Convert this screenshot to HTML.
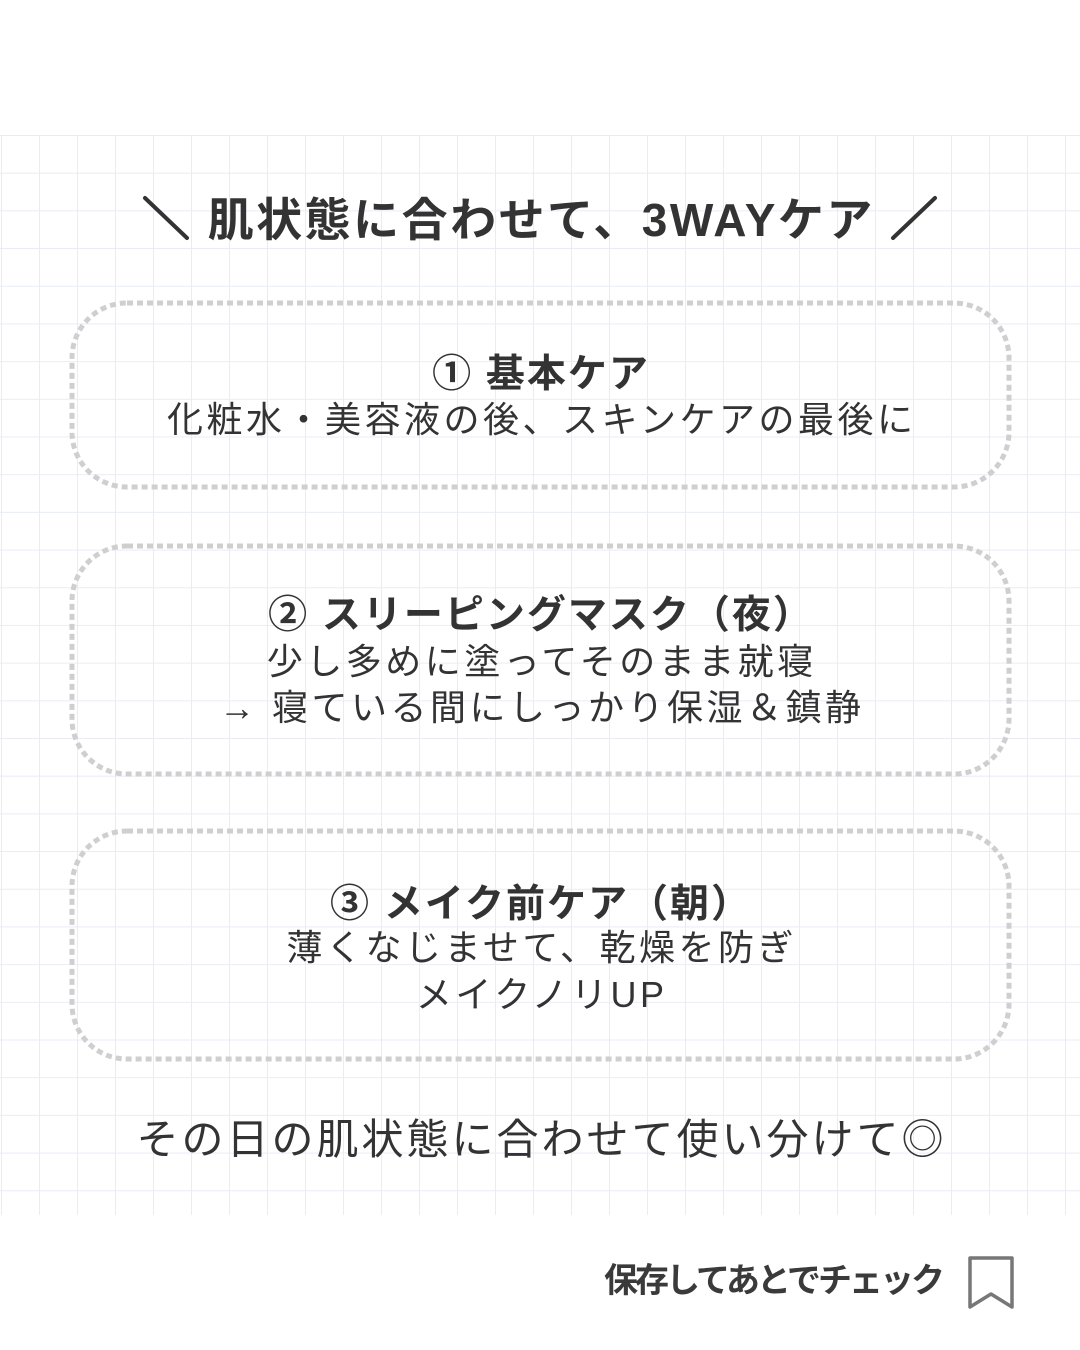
<!DOCTYPE html>
<html><head><meta charset="utf-8"><style>
body{margin:0;width:1080px;height:1350px;background:#fff;position:relative;overflow:hidden;font-family:"Liberation Sans","Noto Sans CJK JP",sans-serif;color:#333}
.grid{position:absolute;left:0;top:135px;width:1080px;height:1080px;
background-image:linear-gradient(to right,#e9ecf7 1px,transparent 1px),linear-gradient(to bottom,#e9ecf7 1px,transparent 1px);
background-size:38px 37.7px;background-position:1px 0}
.t{position:absolute;left:0;width:1080px;text-align:center;white-space:nowrap;line-height:1;letter-spacing:3.5px;text-indent:3.5px}
.b{font-weight:bold;letter-spacing:2px;text-indent:2px}
</style></head><body>
<div class="grid"></div>
<svg width="1080" height="1350" style="position:absolute;left:0;top:0">
<g fill="none" stroke="#cfcfcf" stroke-width="5" stroke-dasharray="6 4">
<rect x="72" y="303" width="937" height="184" rx="55"/>
<rect x="72" y="546" width="937" height="228" rx="55"/>
<rect x="72" y="831" width="937" height="228" rx="55"/>
</g>
<line x1="145" y1="198" x2="187" y2="238" stroke="#333" stroke-width="4" stroke-linecap="round"/>
<line x1="893" y1="238" x2="935" y2="198" stroke="#333" stroke-width="4" stroke-linecap="round"/>
<path d="M970 1258 H1012 V1307 L991 1294 L970 1307 Z" fill="none" stroke="#777" stroke-width="3.5" stroke-linejoin="round"/>
</svg>
<div class="t b" style="top:197px;font-size:46px;letter-spacing:2.5px;text-indent:2.5px">肌状態に合わせて、3WAYケア</div>
<div class="t b" style="top:355px;font-size:39px">① 基本ケア</div>
<div class="t" style="top:402px;font-size:36px">化粧水・美容液の後、スキンケアの最後に</div>
<div class="t b" style="top:596px;font-size:39px">② スリーピングマスク（夜）</div>
<div class="t" style="top:644px;font-size:36px">少し多めに塗ってそのまま就寝</div>
<div class="t" style="top:690px;font-size:36px">→ 寝ている間にしっかり保湿＆鎮静</div>
<div class="t b" style="top:885px;font-size:39px">③ メイク前ケア（朝）</div>
<div class="t" style="top:930px;font-size:36px">薄くなじませて、乾燥を防ぎ</div>
<div class="t" style="top:977px;font-size:36px">メイクノリUP</div>
<div class="t" style="top:1119px;font-size:42px;letter-spacing:3px;text-indent:3px">その日の肌状態に合わせて使い分けて◎</div>
<div style="position:absolute;left:604px;top:1264px;font-size:34px;font-weight:bold;line-height:1;white-space:nowrap;color:#3a3a3a;letter-spacing:-3px">保存してあとでチェック</div>
</body></html>
